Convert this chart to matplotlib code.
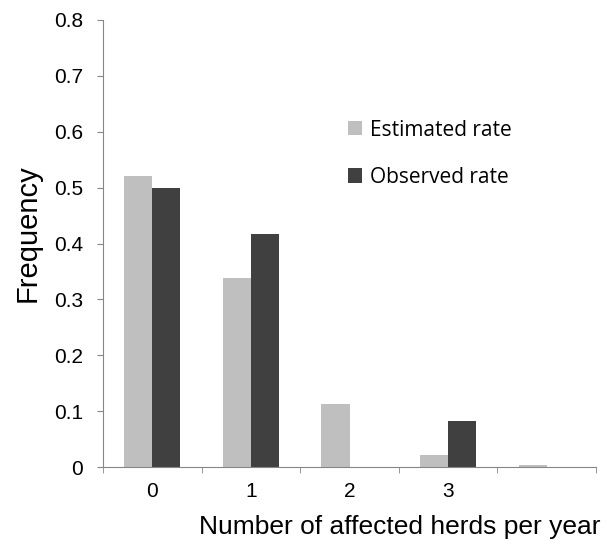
import numpy as np
import matplotlib.pyplot as plt

categories = ['0', '1', '2', '3', '']
estimated = [0.521, 0.338, 0.113, 0.022, 0.004]
observed = [0.500, 0.417, 0.0, 0.083, 0.0]

LIGHT = '#bfbfbf'
DARK = '#404040'
AXIS = '#868686'


def make_graph():
    plt.rcParams['font.family'] = ['Liberation Sans', 'DejaVu Sans']
    fig = plt.figure(figsize=(6.06, 5.4), dpi=100)
    ax = fig.add_axes([0.17, 0.135, 0.8135, 0.828])

    x = np.arange(len(categories))
    width = 0.285
    ax.bar(x - width / 2, estimated, width, color=LIGHT, label='Estimated rate')
    ax.bar(x + width / 2, observed, width, color=DARK, label='Observed rate')

    ax.set_xlim(-0.5, len(categories) - 0.5)
    ax.set_ylim(0, 0.8)
    ax.set_yticks(np.arange(0, 0.81, 0.1))
    ax.set_yticklabels(['0'] + ['%.1f' % v for v in np.arange(0.1, 0.81, 0.1)])
    ax.set_xticks(x)
    ax.set_xticklabels(categories)
    ax.set_xticks(np.arange(-0.5, len(categories)), minor=True)
    ax.tick_params(axis='x', which='major', length=0, pad=11, labelsize=15)
    ax.tick_params(axis='x', which='minor', length=4.5, color=AXIS)
    ax.tick_params(axis='y', length=4.5, color=AXIS, labelsize=15, pad=10)

    for side in ['top', 'right']:
        ax.spines[side].set_visible(False)
    for side in ['left', 'bottom']:
        ax.spines[side].set_color(AXIS)

    fig.text(0.046, 0.569, 'Frequency', rotation=90, ha='center', va='center',
             fontsize=21)
    fig.text(0.66, 0.024, 'Number of affected herds per year',
             ha='center', va='center', fontsize=19)

    ax.legend(loc='center left', bbox_to_anchor=(0.497, 0.701), frameon=False,
              prop={'family': ['Open Sans', 'DejaVu Sans'], 'size': 15},
              borderpad=0, borderaxespad=0,
              handlelength=0.67, handleheight=0.67, handletextpad=0.38,
              labelspacing=1.26)
    fig.savefig('out.png', dpi=100)


if __name__ == '__main__':
    make_graph()
